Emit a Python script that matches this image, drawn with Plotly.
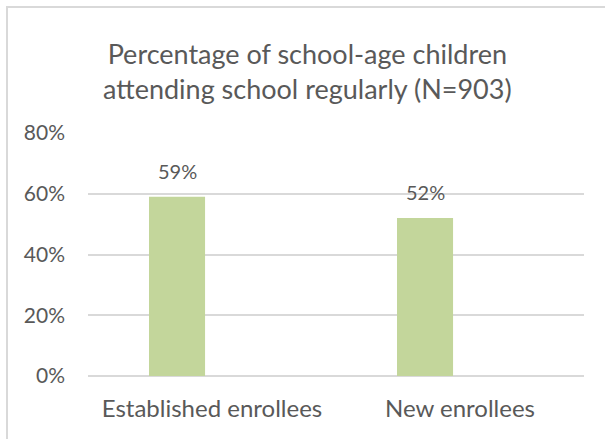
import plotly.graph_objects as go

categories = ["Established enrollees", "New enrollees"]
values = [0.59, 0.52]
title_text = "Percentage of school-age children<br>attending school regularly (N=903)"

BAR_COLOR = "#C3D69B"
TEXT_COLOR = "#595959"
GRID_COLOR = "#D9D9D9"
FONT = "Lato"

bar_width = 0.226
bar_offset = -0.254
px_per_unit = 248  # plot width 496 px over 2 categories

fig = go.Figure()
fig.add_trace(go.Bar(
    x=categories,
    y=values,
    width=bar_width,
    offset=bar_offset,
    marker=dict(color=BAR_COLOR, line=dict(width=0)),
    hoverinfo="skip",
))

for c, v in zip(categories, values):
    fig.add_annotation(
        x=c, y=v, xref="x", yref="y",
        text=f"{round(v*100)}%",
        showarrow=False,
        xshift=(bar_offset + bar_width / 2) * px_per_unit,
        yanchor="bottom", yshift=12,
        font=dict(family=FONT, size=20, color=TEXT_COLOR),
    )

# outer chart border (top and left visible)
fig.add_shape(type="rect", xref="paper", yref="paper",
              x0=(7 - 88) / 496, x1=(640 - 88) / 496,
              y0=(376 - 470) / 243, y1=(376 - 7) / 243,
              line=dict(color=GRID_COLOR, width=2), fillcolor="rgba(0,0,0,0)",
              layer="below")

fig.update_layout(
    width=605, height=439,
    margin=dict(l=88, r=21, t=133, b=63),
    paper_bgcolor="white", plot_bgcolor="white",
    showlegend=False,
    title=dict(text=title_text, x=0.508, xanchor="center",
               y=1 - 64 / 439, yanchor="middle", yref="container",
               font=dict(family=FONT, size=27, color=TEXT_COLOR)),
    font=dict(family=FONT, color=TEXT_COLOR),
)
fig.update_yaxes(range=[0, 0.8], dtick=0.2, tickformat=".0%",
                 showgrid=True, gridcolor=GRID_COLOR, gridwidth=1.5,
                 zeroline=True, zerolinecolor=GRID_COLOR, zerolinewidth=1.5,
                 showline=False, ticks="", ticklabelstandoff=22,
                 tickfont=dict(family=FONT, size=21, color=TEXT_COLOR))
fig.update_xaxes(showgrid=False, showline=False, ticks="", ticklabelstandoff=16,
                 tickfont=dict(family=FONT, size=24, color=TEXT_COLOR))

fig.write_html("out.html",
               config={"displayModeBar": False},
               post_script="document.body.style.margin='0';document.body.style.overflow='hidden';")
